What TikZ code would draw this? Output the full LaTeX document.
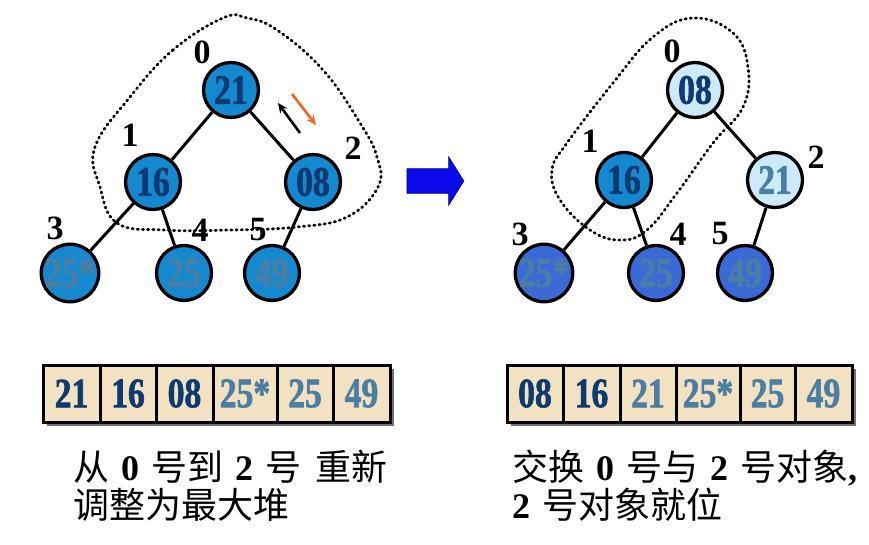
\documentclass[tikz,border=0pt]{standalone}
\usepackage{fontspec}
\setmainfont{Liberation Serif}
\newfontfamily\numfont{Liberation Serif}[FakeStretch=0.8, FakeBold=1.5]
\newfontfamily\cjk{Noto Sans CJK SC}
\usetikzlibrary{arrows.meta,shapes.arrows}
\definecolor{nodeblue}{HTML}{1589CF}
\definecolor{lightnode}{HTML}{CDEAFB}
\definecolor{deepnode}{HTML}{3A6AD6}
\definecolor{darknum}{HTML}{0D3A70}
\definecolor{lightnum}{HTML}{4A7EA3}
\definecolor{cellbeige}{HTML}{F3E2C1}
\definecolor{arrowblue}{HTML}{0A0AEB}
\definecolor{hintorange}{HTML}{F26522}
\newcommand\dg[1]{{\rmfamily\bfseries #1}}
\begin{document}
\begin{tikzpicture}[x=1pt,y=-1pt,
  heapnode/.style={circle, draw=black, line width=3.3pt, minimum size=55pt, inner sep=0pt,
    font=\numfont\bfseries\fontsize{42}{42}\selectfont},
  idx/.style={inner sep=0pt, font=\bfseries\fontsize{34}{34}\selectfont},
  treeedge/.style={line width=3pt},
  hull/.style={line width=2.8pt, line cap=round, dash pattern=on 1.2pt off 4pt},
  cell/.style={draw=black, line width=3pt, fill=cellbeige, minimum height=57pt, inner sep=0pt,
    font=\numfont\bfseries\fontsize{42}{42}\selectfont},
  caption/.style={anchor=base west, inner sep=0pt, font=\cjk\fontsize{36}{38}\selectfont}
]
\useasboundingbox (0,0) rectangle (869,545);

% ---------- left tree ----------
\draw[hull] plot[smooth cycle, tension=0.7] coordinates {
  (223,18) (173,50) (130,97) (95,147) (100,187) (117,223) (163,230) (230,230)
  (297,227) (347,217) (378,187) (377,157) (360,123) (323,70) (277,30) (247,18)};

\node[heapnode, fill=nodeblue, text=darknum] (l0) at (231,90) {21};
\node[heapnode, fill=nodeblue, text=darknum] (l1) at (153,182) {16};
\node[heapnode, fill=nodeblue, text=darknum] (l2) at (313,182) {08};
\node[heapnode, fill=nodeblue, text=lightnum] (l3) at (70,273) {25*};
\node[heapnode, fill=nodeblue, text=lightnum] (l4) at (184,273) {25};
\node[heapnode, fill=nodeblue, text=lightnum] (l5) at (272,273) {49};
\draw[treeedge] (l0) -- (l1);
\draw[treeedge] (l0) -- (l2);
\draw[treeedge] (l1) -- (l3);
\draw[treeedge] (l1) -- (l4);
\draw[treeedge] (l2) -- (l5);

\node[idx] (li0) at (202,52) {0};
\node[idx] (li1) at (130,135) {1};
\node[idx] (li2) at (353,148) {2};
\node[idx] (li3) at (55,228) {3};
\node[idx] (li4) at (200,230) {4};
\node[idx] (li5) at (258,230) {5};

\coordinate (up1) at (300,133);
\coordinate (up2) at (278,103);
\coordinate (dn1) at (292,94);
\coordinate (dn2) at (316,125);
\draw[line width=2.6pt, -{Stealth[length=10pt,width=9pt]}] (up1) -- (up2);
\draw[line width=2.6pt, hintorange, -{Stealth[length=10pt,width=9pt]}] (dn1) -- (dn2);

% ---------- big arrow ----------
\node[single arrow, fill=arrowblue, draw=arrowblue!55!black, line width=0.6pt,
  minimum height=57pt, inner xsep=0pt, inner ysep=12pt, single arrow head extend=12pt,
  single arrow tip angle=116, single arrow head indent=0pt] (big) at (431.5,181) {};

% ---------- right tree ----------
\draw[hull] plot[smooth cycle, tension=0.7] coordinates {
  (693,18) (733,33) (748,67) (743,107) (713,143) (677,193) (647,230) (620,240)
  (590,230) (560,200) (552,170) (567,143) (613,83) (653,37)};

\node[heapnode, fill=lightnode, text=darknum] (r0) at (695,90) {08};
\node[heapnode, fill=nodeblue, text=darknum] (r1) at (624,180) {16};
\node[heapnode, fill=lightnode, text=lightnum] (r2) at (775,180) {21};
\node[heapnode, fill=deepnode, text=lightnum] (r3) at (544,273) {25*};
\node[heapnode, fill=deepnode, text=lightnum] (r4) at (656,273) {25};
\node[heapnode, fill=deepnode, text=lightnum] (r5) at (745,273) {49};
\draw[treeedge] (r0) -- (r1);
\draw[treeedge] (r0) -- (r2);
\draw[treeedge] (r1) -- (r3);
\draw[treeedge] (r1) -- (r4);
\draw[treeedge] (r2) -- (r5);

\node[idx] (ri0) at (672,51) {0};
\node[idx] (ri1) at (590,141) {1};
\node[idx] (ri2) at (816,157) {2};
\node[idx] (ri3) at (520,234) {3};
\node[idx] (ri4) at (678,234) {4};
\node[idx] (ri5) at (720,234) {5};

% ---------- arrays ----------
\fill[black!55] (47,369) rectangle (394,426);
\node[cell, minimum width=57pt, text=darknum]  (la0) at (71.5,393.5) {21};
\node[cell, minimum width=56pt, text=darknum]  (la1) at (128,393.5) {16};
\node[cell, minimum width=57pt, text=darknum]  (la2) at (184.5,393.5) {08};
\node[cell, minimum width=64pt, text=lightnum] (la3) at (245,393.5) {25*};
\node[cell, minimum width=56pt, text=lightnum] (la4) at (305,393.5) {25};
\node[cell, minimum width=57pt, text=lightnum] (la5) at (361.5,393.5) {49};

\fill[black!55] (511,369) rectangle (856,426);
\node[cell, minimum width=56pt, text=darknum]  (ra0) at (535,393.5) {08};
\node[cell, minimum width=57pt, text=darknum]  (ra1) at (591.5,393.5) {16};
\node[cell, minimum width=56pt, text=lightnum] (ra2) at (648,393.5) {21};
\node[cell, minimum width=64pt, text=lightnum] (ra3) at (708,393.5) {25*};
\node[cell, minimum width=55pt, text=lightnum] (ra4) at (767.5,393.5) {25};
\node[cell, minimum width=57pt, text=lightnum] (ra5) at (823.5,393.5) {49};

% ---------- captions ----------
\node[caption] (lt1) at (73,480) {从\hspace{12pt}\dg{0}\hspace{12pt}号到\hspace{12pt}\dg{2}\hspace{12pt}号\hspace{14pt}重新};
\node[caption] (lt2) at (73,518) {调整为最大堆};
\node[caption] (rt1) at (512,480) {交换\hspace{12pt}\dg{0}\hspace{12pt}号与\hspace{12pt}\dg{2}\hspace{12pt}号对象\dg{,}};
\node[caption] (rt2) at (512,518) {\dg{2}\hspace{12pt}号对象就位};
\end{tikzpicture}
\end{document}
